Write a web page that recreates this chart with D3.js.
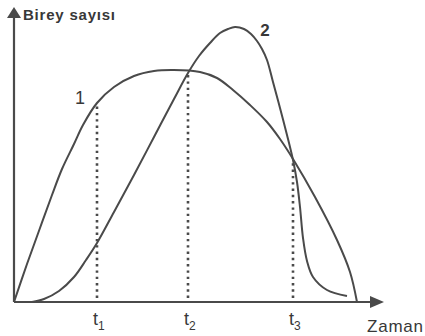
<!DOCTYPE html>
<html lang="tr">
<head>
<meta charset="UTF-8" />
<title>Birey sayısı - Zaman</title>
<script src="https://d3js.org/d3.v7.min.js"></script>
<style>
  body { margin: 0; background: #fff; }
  text { font-family: "Liberation Sans", Arial, sans-serif; fill: #383838; }
</style>
</head>
<body>
<svg width="425" height="336"></svg>
<script>
// curve 1 : [zaman, birey sayısı]
const curve1 = [
  [0, 0], [13, 38], [26, 74], [38, 107], [48, 133], [60, 158], [69, 177], [83, 199],
  [100, 215], [120, 226], [140, 231], [160, 232], [186, 230], [203, 224], [219, 212],
  [236, 197], [253, 180], [266, 163], [279, 143], [301, 105], [323, 62], [336, 30], [343, 0]
];
// curve 2
const curve2 = [
  [18, 0], [30, 3], [45, 11], [60, 25], [72, 42], [83, 59], [100, 90], [120, 127],
  [140, 165], [160, 203], [174, 229], [185, 246], [196, 259], [206, 269], [214, 273],
  [221, 275], [230, 273], [237, 268], [243, 261], [248, 253], [253, 242], [259, 220],
  [266, 194], [273, 167], [279, 142], [283, 120], [286, 95], [289, 64], [293, 41],
  [299, 25], [313, 12], [333, 6]
];
const tNames = ['1', '2', '3'];
const tValues = [83, 174, 279];
const tHeights = [199, 230, 142];

const svg = d3.select('svg');
const x = d3.scaleLinear().domain([0, 370]).range([14, 384]);
const y = d3.scaleLinear().domain([0, 300]).range([302, 2]);
const ink = '#4a4a4a';

// axes
svg.append('line').attr('x1', x(0)).attr('y1', y(0)).attr('x2', x(0)).attr('y2', 14)
  .style('stroke', ink).style('stroke-width', 2.2);
svg.append('line').attr('x1', x(0)).attr('y1', y(0)).attr('x2', 376).attr('y2', y(0))
  .style('stroke', ink).style('stroke-width', 2.2);
svg.append('path').attr('d', `M${x(0)},7 L${x(0) + 7},18 L${x(0) - 7},18 Z`).style('fill', ink);
svg.append('path').attr('d', `M384,${y(0)} L370,${y(0) - 6} L370,${y(0) + 6} Z`).style('fill', ink);

// dotted lines
tValues.forEach((t, i) => {
  svg.append('line')
    .attr('x1', x(t)).attr('x2', x(t))
    .attr('y1', y(0) - 4).attr('y2', y(tHeights[i]))
    .style('stroke', ink).style('stroke-width', 2.6)
    .style('stroke-dasharray', '2.4,3.9');
});

// curves
const line = d3.line().x(d => x(d[0])).y(d => y(d[1])).curve(d3.curveCatmullRom.alpha(0.5));
[curve1, curve2].forEach(c => {
  svg.append('path').datum(c).attr('d', line)
    .style('fill', 'none').style('stroke', ink).style('stroke-width', 2);
});

// labels
svg.append('text').attr('x', 23).attr('y', 20).attr('textLength', 92)
  .style('font-size', '15px').style('font-weight', 'bold').text('Birey sayısı');
svg.append('text').attr('x', 367).attr('y', 332).attr('textLength', 56)
  .style('font-size', '17px').text('Zaman');
svg.append('text').attr('x', 80).attr('y', 104).attr('text-anchor', 'middle')
  .style('font-size', '18px').text('1');
svg.append('text').attr('x', 265).attr('y', 36).attr('text-anchor', 'middle')
  .style('font-size', '17px').style('font-weight', 'bold').text('2');

tValues.forEach((t, i) => {
  const g = svg.append('text').attr('x', x(t) - 4).attr('y', 325).style('font-size', '18px');
  g.append('tspan').text('t');
  g.append('tspan').attr('dy', 5).style('font-size', '12px').text(tNames[i]);
});
</script>
</body>
</html>
